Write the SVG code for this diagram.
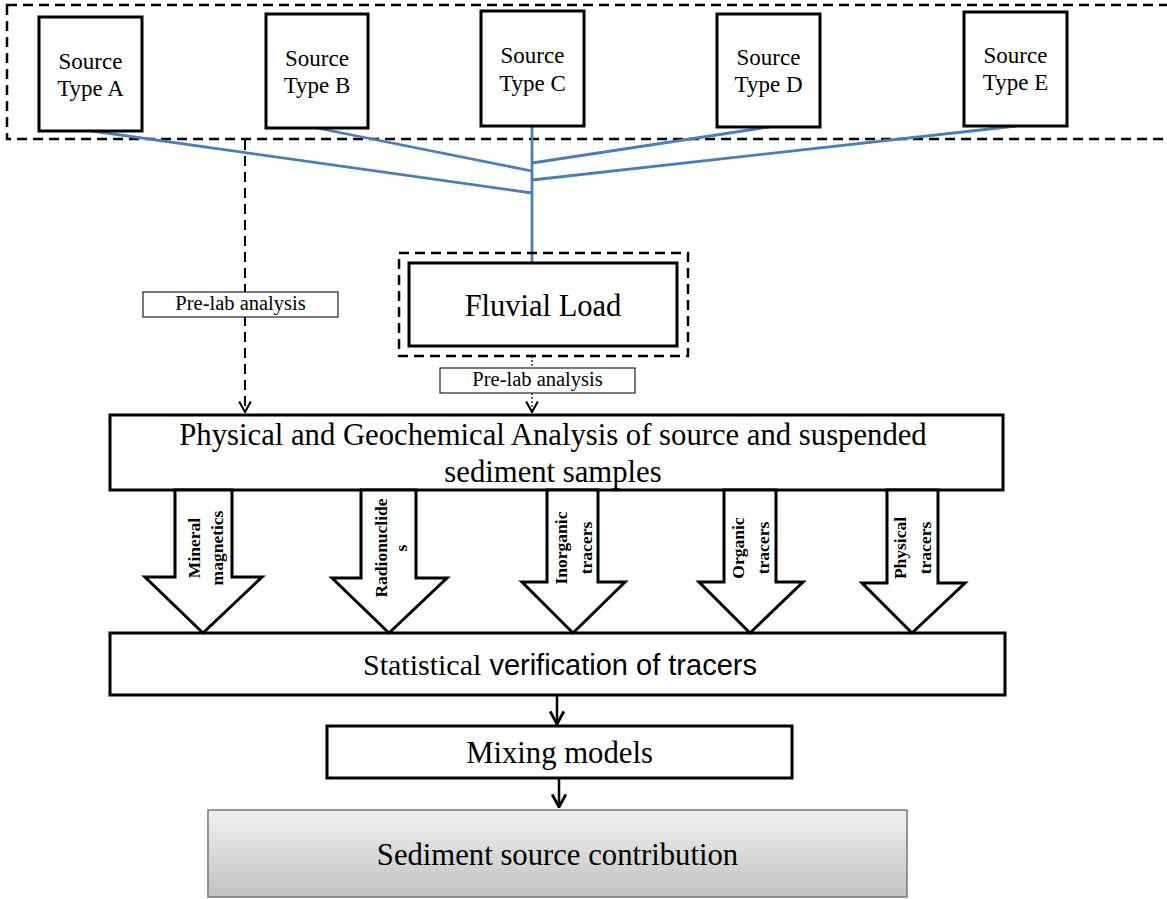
<svg xmlns="http://www.w3.org/2000/svg" width="1167" height="899" viewBox="0 0 1167 899">
<defs>
<style>
.serif{font-family:"Liberation Serif","Times New Roman",serif;fill:#000}
.sans{font-family:"Liberation Sans",Arial,sans-serif;fill:#000}
.box{fill:#fff;stroke:#000;stroke-width:3}
.thin{fill:#fff;stroke:#222;stroke-width:1.2}
.dash{fill:none;stroke:#000;stroke-width:2.5;stroke-dasharray:10 6}
.blue{fill:none;stroke:#4a7ebb;stroke-width:2.8}
.barrow{fill:#fff;stroke:#000;stroke-width:3;stroke-linejoin:miter}
.lbl{font-family:"Liberation Serif","Times New Roman",serif;font-weight:bold;font-size:17.5px;text-anchor:middle}
.src{font-size:23px;text-anchor:middle}
.big{font-size:30.7px;text-anchor:middle}
</style>
<marker id="chev" markerUnits="userSpaceOnUse" markerWidth="14" markerHeight="14" viewBox="-1 -1 12 12" refX="10" refY="5" orient="auto">
<path d="M1,0 L10,5 L1,10" fill="none" stroke="#000" stroke-width="1.8"/>
</marker>
<marker id="chevBig" markerUnits="userSpaceOnUse" markerWidth="16" markerHeight="16" viewBox="-1 -1 14 14" refX="12" refY="6" orient="auto">
<path d="M1,0 L12,6 L1,12" fill="none" stroke="#000" stroke-width="2.5"/>
</marker>
<linearGradient id="grey" x1="0" y1="0" x2="0" y2="1">
<stop offset="0" stop-color="#f1f1f1"/>
<stop offset="1" stop-color="#c2c2c2"/>
</linearGradient>
</defs>
<rect width="1167" height="899" fill="#fff"/>

<g id="sources-group">
<rect class="dash" x="7" y="5" width="1175" height="134"/>
</g>

<g id="connectors">
<line class="blue" x1="92" y1="131" x2="532" y2="193"/>
<line class="blue" x1="317" y1="128" x2="532" y2="171"/>
<line class="blue" x1="769" y1="127" x2="532" y2="163"/>
<line class="blue" x1="1016" y1="126" x2="532" y2="180"/>
<line class="blue" x1="532" y1="126" x2="532" y2="263"/>
<line x1="245" y1="140" x2="245" y2="412" stroke="#000" stroke-width="2" stroke-dasharray="10 6" marker-end="url(#chev)"/>
<line x1="532" y1="356" x2="532" y2="368" stroke="#000" stroke-width="1.2" stroke-dasharray="2 2"/>
<line x1="532" y1="393" x2="532" y2="412" stroke="#000" stroke-width="1.2" stroke-dasharray="2 2" marker-end="url(#chev)"/>
<line x1="557" y1="695" x2="557" y2="724" stroke="#000" stroke-width="2.5" marker-end="url(#chevBig)"/>
<line x1="559" y1="778" x2="559" y2="807" stroke="#000" stroke-width="2.5" marker-end="url(#chevBig)"/>
</g>

<g id="sourceA">
<rect class="box" x="39" y="17" width="103" height="114"/>
<text class="serif src" x="90.5" y="69">Source</text>
<text class="serif src" x="90.5" y="96">Type A</text>
</g>
<g id="sourceB">
<rect class="box" x="266" y="14" width="102" height="114"/>
<text class="serif src" x="317" y="66">Source</text>
<text class="serif src" x="317" y="93">Type B</text>
</g>
<g id="sourceC">
<rect class="box" x="481" y="11" width="103" height="115"/>
<text class="serif src" x="532.5" y="63">Source</text>
<text class="serif src" x="532.5" y="91">Type C</text>
</g>
<g id="sourceD">
<rect class="box" x="717" y="14" width="103" height="113"/>
<text class="serif src" x="768.5" y="65">Source</text>
<text class="serif src" x="768.5" y="92">Type D</text>
</g>
<g id="sourceE">
<rect class="box" x="964" y="12" width="103" height="114"/>
<text class="serif src" x="1015.5" y="63">Source</text>
<text class="serif src" x="1015.5" y="90">Type E</text>
</g>

<g id="fluvial">
<rect class="dash" x="399" y="253" width="289" height="103" stroke-width="2"/>
<rect class="box" x="409" y="263" width="268" height="83" stroke-width="3.5"/>
<text class="serif" x="543" y="316" font-size="30.5" text-anchor="middle">Fluvial Load</text>
</g>

<g id="prelab1">
<rect class="thin" x="143" y="292" width="195" height="25"/>
<text class="serif" x="240.5" y="310" font-size="20.5" text-anchor="middle">Pre-lab analysis</text>
</g>
<g id="prelab2">
<rect class="thin" x="440" y="368" width="195" height="25"/>
<text class="serif" x="537.5" y="386" font-size="20.5" text-anchor="middle">Pre-lab analysis</text>
</g>

<g id="analysis">
<rect class="box" x="110" y="415" width="893" height="75"/>
<text class="serif big" x="553" y="445">Physical and Geochemical Analysis of source and suspended</text>
<text class="serif big" x="553" y="482">sediment samples</text>
</g>

<g id="statistical">
<rect class="box" x="110" y="633" width="895" height="62"/>
<text x="363" y="675" font-size="30"><tspan class="serif">Statistical</tspan><tspan class="sans" font-size="29"> verification of tracers</tspan></text>
</g>

<g id="tracer-mineral">
<polygon class="barrow" points="175,490 232,490 232,577 262,577 203,633 145,577 175,577"/>
<text class="lbl" transform="translate(200,548) rotate(-90)">Mineral</text>
<text class="lbl" transform="translate(223,548) rotate(-90)">magnetics</text>
</g>
<g id="tracer-radio">
<polygon class="barrow" points="361,490 416,490 416,578 447,578 389,633 332,578 361,578"/>
<text class="lbl" transform="translate(387,548) rotate(-90)">Radionuclide</text>
<text class="lbl" transform="translate(407,548) rotate(-90)">s</text>
</g>
<g id="tracer-inorganic">
<polygon class="barrow" points="547,490 598,490 598,582 625,582 573,633 522,582 547,582"/>
<text class="lbl" transform="translate(567,548) rotate(-90)">Inorganic</text>
<text class="lbl" transform="translate(592,548) rotate(-90)">tracers</text>
</g>
<g id="tracer-organic">
<polygon class="barrow" points="724,490 776,490 776,582 803,582 750,633 699,582 724,582"/>
<text class="lbl" transform="translate(744,548) rotate(-90)">Organic</text>
<text class="lbl" transform="translate(769,548) rotate(-90)">tracers</text>
</g>
<g id="tracer-physical">
<polygon class="barrow" points="887,490 938,490 938,583 965,583 912,633 862,583 887,583"/>
<text class="lbl" transform="translate(906,548) rotate(-90)">Physical</text>
<text class="lbl" transform="translate(931,548) rotate(-90)">tracers</text>
</g>

<g id="mixing">
<rect class="box" x="327" y="726" width="465" height="52"/>
<text class="serif big" x="559.5" y="763">Mixing models</text>
</g>

<g id="contribution">
<rect x="208" y="810" width="699" height="87" fill="url(#grey)" stroke="#777" stroke-width="1.5"/>
<text class="serif big" x="557.5" y="865">Sediment source contribution</text>
</g>
</svg>
